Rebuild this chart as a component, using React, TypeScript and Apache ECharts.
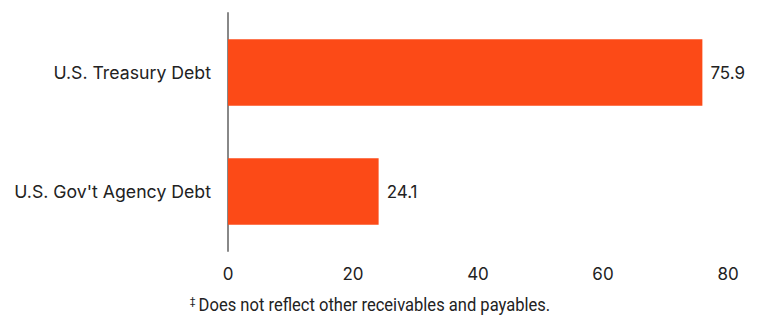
import React, { useEffect, useRef } from "react";
import * as echarts from "echarts";

const categories = ["U.S. Treasury Debt", "U.S. Gov't Agency Debt"];
const values = [75.9, 24.1];
const xTicks = [0, 20, 40, 60, 80];
const footnote = "Does not reflect other receivables and payables.";

const FONT = "Inter, Roboto, sans-serif";
const NOTE_FONT = "Roboto, sans-serif";

export default function App() {
  const ref = useRef<HTMLDivElement>(null);
  useEffect(() => {
    if (!ref.current) return;
    const chart = echarts.init(ref.current, undefined, { renderer: "svg" });
    chart.setOption({
      animation: false,
      grid: { left: 228, right: 32, top: 13, bottom: 65, containLabel: false },
      xAxis: {
        type: "value",
        min: xTicks[0],
        max: xTicks[xTicks.length - 1],
        interval: 20,
        axisLine: { show: false },
        axisTick: { show: false },
        splitLine: { show: false },
        axisLabel: {
          color: "#222",
          fontSize: 17,
          fontFamily: FONT,
          margin: 14,
        },
      },
      yAxis: {
        type: "category",
        data: categories,
        inverse: true,
        axisLine: { show: true, lineStyle: { color: "#888", width: 2 } },
        axisTick: { show: false },
        axisLabel: {
          color: "#222",
          fontSize: 17.7,
          fontFamily: FONT,
          margin: 17,
        },
      },
      series: [
        {
          type: "bar",
          data: values,
          barWidth: "56%",
          itemStyle: { color: "#FC4A17" },
          label: {
            show: true,
            position: "right",
            distance: 8,
            color: "#222",
            fontSize: 17,
            fontFamily: FONT,
            formatter: (p: any) => p.value.toFixed(1),
          },
        },
      ],
      graphic: [
        {
          type: "text",
          x: 370,
          y: 314,
          scaleX: 0.92,
          style: {
            text: "{s|‡} {t|" + footnote + "}",
            align: "center",
            verticalAlign: "bottom",
            rich: {
              s: { fontSize: 11, verticalAlign: "top", fill: "#222", fontFamily: NOTE_FONT },
              t: { fontSize: 18, fill: "#222", fontFamily: NOTE_FONT },
            },
          },
        },
      ],
    });
    return () => chart.dispose();
  }, []);
  return (
    <div
      ref={ref}
      style={{ position: "absolute", left: 0, top: 0, width: 760, height: 316 }}
    />
  );
}
